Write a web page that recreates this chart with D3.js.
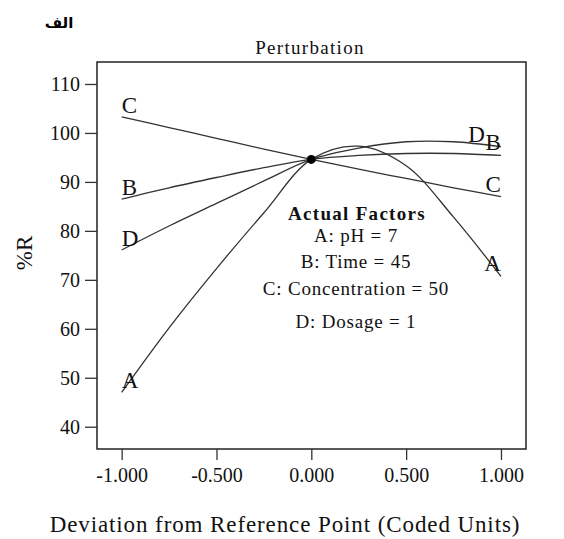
<!DOCTYPE html>
<html><head><meta charset="utf-8">
<script src="https://cdn.jsdelivr.net/npm/d3@7"></script>
<style>body{margin:0;background:#fff}svg{display:block}</style>
</head><body>
<svg id="c" width="564" height="539"></svg>
<script>
const xs = [-1, -0.75, -0.5, -0.25, 0, 0.25, 0.5, 0.75, 1];
const seriesA = [47.0, 60.2, 72.3, 83.7, 94.6, 97.3, 93.3, 82.8, 70.7];
const seriesB = [86.5, 88.8, 90.9, 92.9, 94.6, 95.4, 95.8, 95.8, 95.4];
const seriesC = [103.3, 101.1, 98.9, 96.7, 94.6, 92.6, 90.7, 88.8, 87.0];
const seriesD = [76.1, 81.0, 85.6, 90.2, 94.6, 96.9, 98.2, 98.2, 97.2];
const seriesNames = ["A", "B", "C", "D"];
const yTicks = [40, 50, 60, 70, 80, 90, 100, 110];
const xTicks = [-1, -0.5, 0, 0.5, 1];
const factorLines = ["A: pH = 7", "B: Time = 45", "C: Concentration = 50", "D: Dosage = 1"];
const centerValue = 94.6;

const series = {A: seriesA, B: seriesB, C: seriesC, D: seriesD};
const svg = d3.select("#c");
const serif = "'Liberation Serif','Times New Roman',serif";
const L = 97, R = 526, T = 62, B = 449;
const x = d3.scaleLinear().domain([-1.13, 1.132]).range([L, R]);
const y = d3.scaleLinear().domain([35.45, 114.49]).range([B, T]);

// Arabic heading
svg.append("text").attr("x", 59).attr("y", 28).attr("text-anchor", "middle")
  .attr("font-family", "'DejaVu Sans','Noto Sans',sans-serif").attr("font-weight", "bold")
  .attr("font-size", 15).attr("fill", "#000").text("الف");

// title
svg.append("text").attr("x", 310).attr("y", 54).attr("text-anchor", "middle")
  .attr("font-family", serif).attr("font-size", 19).attr("letter-spacing", 1.3)
  .attr("fill", "#111").text("Perturbation");

// frame
svg.append("rect").attr("x", L).attr("y", T).attr("width", R - L).attr("height", B - T)
  .attr("fill", "none").attr("stroke", "#222").attr("stroke-width", 1.5);

// axes
const fmtX = d => d3.format(".3f")(d).replace("\u2212", "-");
const yAxis = d3.axisLeft(y).tickValues(yTicks).tickSize(12).tickPadding(5).tickFormat(d3.format("d"));
const gy = svg.append("g").attr("transform", `translate(${L},0)`).call(yAxis);
const xAxis = d3.axisBottom(x).tickValues(xTicks).tickSize(11).tickPadding(8).tickFormat(fmtX);
const gx = svg.append("g").attr("transform", `translate(0,${B})`).call(xAxis);
[gx, gy].forEach(g => {
  g.select(".domain").remove();
  g.selectAll(".tick line").attr("stroke", "#333").attr("stroke-width", 1.3);
  g.selectAll(".tick text").attr("font-family", serif).attr("font-size", 20).attr("fill", "#111");
});

// axis titles
svg.append("text").attr("transform", "translate(32,253) rotate(-90)").attr("text-anchor", "middle")
  .attr("font-family", serif).attr("font-size", 23).attr("fill", "#111").text("%R");
svg.append("text").attr("x", 285).attr("y", 532).attr("text-anchor", "middle")
  .attr("font-family", serif).attr("font-size", 23).attr("letter-spacing", 0.9).attr("fill", "#111")
  .text("Deviation from Reference Point (Coded Units)");

// curves
const line = d3.line().x(d => x(d[0])).y(d => y(d[1])).curve(d3.curveCatmullRom.alpha(0.5));
seriesNames.forEach(n => {
  const pts = xs.map((v, i) => [v, series[n][i]]);
  svg.append("path").attr("d", line(pts)).attr("fill", "none")
    .attr("stroke", "#333").attr("stroke-width", 1.3);
});

// labels
const labStyle = s => s.attr("font-family", serif).attr("font-size", 23).attr("fill", "#111");
seriesNames.forEach(n => {
  const v = series[n];
  labStyle(svg.append("text").attr("x", x(-1)).attr("y", y(v[0]) - 4).attr("text-anchor", "start").text(n));
  const dx = n === "D" ? -16 : 0;
  labStyle(svg.append("text").attr("x", x(1) + dx).attr("y", y(v[v.length - 1]) - 5).attr("text-anchor", "end").text(n));
});

// center point
svg.append("circle").attr("cx", x(0)).attr("cy", y(centerValue)).attr("r", 4.5).attr("fill", "#000");

// factors box
svg.append("text").attr("x", 357).attr("y", 220).attr("text-anchor", "middle")
  .attr("font-family", serif).attr("font-weight", "bold").attr("font-size", 19)
  .attr("letter-spacing", 1.3).attr("fill", "#111").text("Actual Factors");
const fy = [242, 268, 295, 328];
factorLines.forEach((t, i) => {
  svg.append("text").attr("x", 356).attr("y", fy[i]).attr("text-anchor", "middle")
    .attr("font-family", serif).attr("font-size", 19).attr("letter-spacing", 0.8)
    .attr("fill", "#111").text(t);
});
</script>
</body></html>
